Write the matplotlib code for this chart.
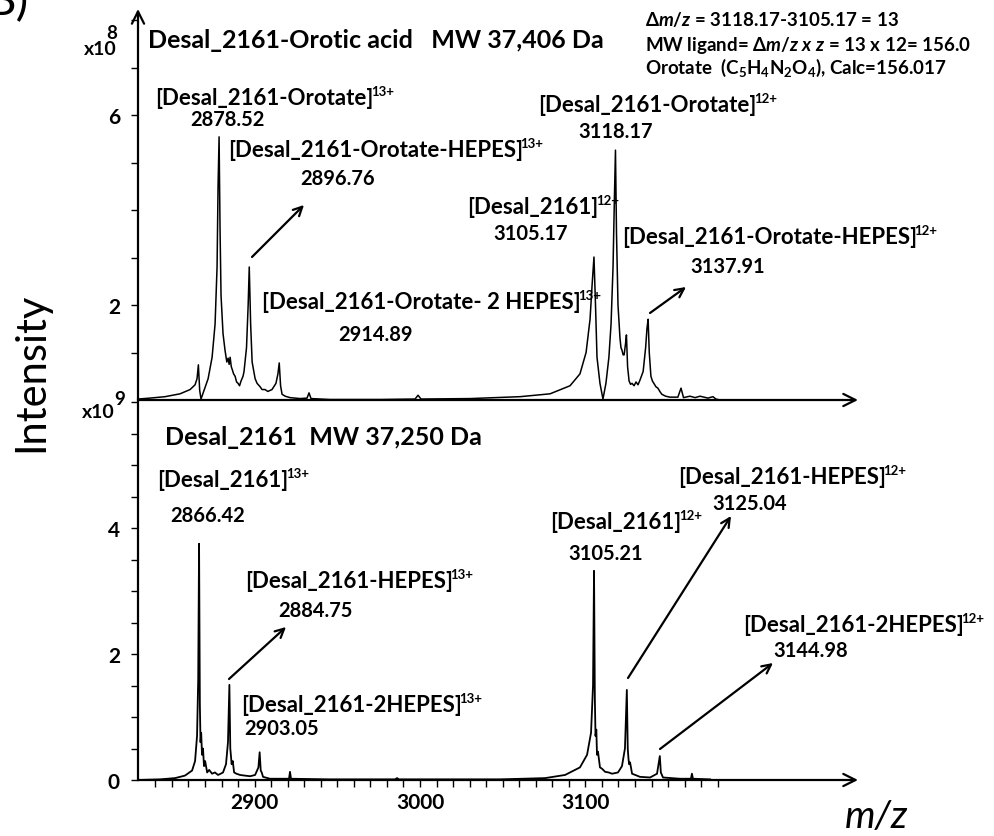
import matplotlib
matplotlib.use("Agg")
import matplotlib.pyplot as plt
from matplotlib import transforms
from matplotlib.patches import FancyArrowPatch
import numpy as np

plt.rcParams['font.family'] = ['Lato', 'DejaVu Sans']
plt.rcParams['mathtext.fontset'] = 'custom'
plt.rcParams['mathtext.rm'] = 'Lato:bold'
plt.rcParams['mathtext.bf'] = 'Lato:bold'
plt.rcParams['mathtext.it'] = 'Lato:italic:bold'

# ---------------- spectra ----------------
# Desal_2161 + orotic acid, intensity in units of 1e8
orot_mz = [2829.5, 2836.8, 2845.9, 2854.9, 2861.0, 2864.0, 2865.2, 2866.0, 2866.8, 2867.6,
           2869.4, 2871.9, 2874.3, 2876.1, 2877.3, 2877.9, 2878.52, 2879.1, 2879.7, 2880.9,
           2882.1, 2883.2, 2884.0, 2884.6, 2885.2, 2885.9, 2886.4, 2887.3, 2888.2, 2889.1,
           2890.0, 2890.9, 2891.8, 2893.0, 2893.6, 2895.1, 2896.1, 2896.76, 2897.6, 2898.5,
           2900.3, 2901.5, 2903.3, 2904.5, 2906.3, 2908.0, 2910.5, 2912.9, 2914.1, 2914.89,
           2915.7, 2916.6, 2918.5, 2921.4, 2927.5, 2931.7, 2932.9, 2934.1, 2945.6, 2975.9,
           2997.0, 2998.8, 3000.6, 3030.3, 3060.5, 3078.6, 3090.7, 3096.7, 3100.4, 3102.8,
           3104.0, 3105.17, 3106.1, 3107.0, 3108.8, 3110.6, 3112.4, 3114.2, 3115.5, 3116.7,
           3117.5, 3118.17, 3118.8, 3119.7, 3120.9, 3121.5, 3122.1, 3122.8, 3123.4, 3124.3,
           3124.8, 3125.5, 3126.4, 3127.3, 3128.2, 3129.4, 3130.6, 3131.8, 3133.0, 3134.9,
           3136.4, 3137.2, 3137.91, 3138.6, 3139.6, 3140.5, 3141.4, 3142.6, 3143.8, 3145.0,
           3146.2, 3148.5, 3151.1, 3155.9, 3157.8, 3159.3, 3163.2, 3166.3, 3169.3, 3174.1,
           3177.1, 3178.9, 3181.4]
orot_int = [0.02, 0.04, 0.07, 0.13, 0.22, 0.32, 0.45, 0.74, 0.20, 0.02,
            0.20, 0.45, 0.90, 1.60, 2.80, 4.50, 5.54, 3.60, 2.20, 1.40,
            1.05, 0.80, 0.88, 0.75, 0.90, 0.70, 0.65, 0.55, 0.50, 0.38,
            0.35, 0.30, 0.40, 0.50, 0.60, 1.10, 2.00, 2.80, 1.60, 0.80,
            0.45, 0.35, 0.28, 0.22, 0.22, 0.18, 0.22, 0.35, 0.55, 0.78,
            0.30, 0.12, 0.08, 0.05, 0.03, 0.04, 0.15, 0.03, 0.01, 0.01,
            0.02, 0.10, 0.02, 0.03, 0.07, 0.13, 0.30, 0.55, 1.00, 1.70,
            2.40, 3.01, 2.00, 0.90, 0.35, 0.02, 0.35, 0.90, 1.60, 2.80,
            4.20, 5.26, 3.50, 2.00, 1.30, 1.10, 1.05, 0.95, 0.95, 1.20,
            1.37, 0.70, 0.40, 0.33, 0.35, 0.30, 0.38, 0.32, 0.42, 0.60,
            1.10, 1.50, 1.70, 1.00, 0.50, 0.40, 0.35, 0.28, 0.25, 0.18,
            0.12, 0.08, 0.06, 0.06, 0.25, 0.05, 0.08, 0.05, 0.08, 0.04,
            0.07, 0.02, 0.00]

# Desal_2161 alone, intensity in units of 1e9
apo_mz = [2829.5, 2842.8, 2851.9, 2857.9, 2862.2, 2864.0, 2865.2, 2865.9, 2866.42, 2866.9,
          2867.3, 2867.7, 2868.2, 2868.8, 2869.4, 2870.1, 2871.3, 2872.5, 2874.3, 2876.0,
          2877.9, 2879.5, 2880.9, 2882.7, 2883.9, 2884.75, 2885.3, 2885.8, 2886.1, 2886.8,
          2887.6, 2889.0, 2891.2, 2894.0, 2897.3, 2900.3, 2902.3, 2903.05, 2903.7, 2904.3,
          2905.1, 2909.3, 2920.8, 2921.4, 2922.0, 2945.6, 2984.9, 2986.1, 2987.3, 3048.4,
          3075.6, 3087.7, 3096.7, 3101.0, 3103.4, 3104.6, 3105.21, 3105.7, 3106.1, 3106.6,
          3107.0, 3107.6, 3108.8, 3110.0, 3111.9, 3114.0, 3116.1, 3118.0, 3119.7, 3122.1,
          3123.9, 3125.04, 3125.6, 3126.0, 3126.4, 3127.0, 3128.2, 3133.0, 3139.1, 3143.3,
          3144.98, 3145.6, 3146.9, 3157.1, 3163.8, 3164.4, 3165.0, 3175.4]
apo_int = [0.00, 0.01, 0.03, 0.07, 0.15, 0.30, 0.70, 1.60, 3.75, 1.20,
           0.60, 0.75, 0.40, 0.50, 0.22, 0.30, 0.12, 0.16, 0.10, 0.12,
           0.08, 0.10, 0.12, 0.25, 0.60, 1.51, 0.50, 0.35, 0.25, 0.30,
           0.12, 0.10, 0.08, 0.07, 0.06, 0.08, 0.20, 0.44, 0.15, 0.12,
           0.05, 0.02, 0.02, 0.13, 0.02, 0.01, 0.01, 0.03, 0.01, 0.01,
           0.03, 0.08, 0.20, 0.40, 0.75, 1.50, 3.32, 1.30, 0.70, 0.80,
           0.40, 0.45, 0.20, 0.18, 0.13, 0.12, 0.10, 0.11, 0.12, 0.22,
           0.50, 1.43, 0.50, 0.35, 0.25, 0.28, 0.10, 0.05, 0.04, 0.10,
           0.38, 0.12, 0.04, 0.02, 0.02, 0.10, 0.02, 0.01]

# ---------------- peak annotations ----------------
orot_peak_mz = [2878.52, 2896.76, 2914.89, 3105.17, 3118.17, 3137.91]
orot_peak_names = ["[Desal_2161-Orotate]", "[Desal_2161-Orotate-HEPES]",
                   "[Desal_2161-Orotate- 2 HEPES]", "[Desal_2161]",
                   "[Desal_2161-Orotate]", "[Desal_2161-Orotate-HEPES]"]
orot_peak_charges = ["13+", "13+", "13+", "12+", "12+", "12+"]

apo_peak_mz = [2866.42, 2884.75, 2903.05, 3105.21, 3125.04, 3144.98]
apo_peak_names = ["[Desal_2161]", "[Desal_2161-HEPES]", "[Desal_2161-2HEPES]",
                  "[Desal_2161]", "[Desal_2161-HEPES]", "[Desal_2161-2HEPES]"]
apo_peak_charges = ["13+", "13+", "13+", "12+", "12+", "12+"]

x_major_ticks = [2900, 3000, 3100]
top_y_labelled = [2, 6]
bot_y_labelled = [0, 2, 4]

# ---------------- figure ----------------
W, H = 994, 837
fig = plt.figure(figsize=(W / 100, H / 100), dpi=100)
pix = transforms.Affine2D().scale(1, -1).translate(0, H)   # top-down pixel coords
renderer = fig.canvas.get_renderer()


def rect(x0, y0, x1, y1):
    return [x0 / W, 1 - y1 / H, (x1 - x0) / W, (y1 - y0) / H]


ax_top = fig.add_axes(rect(138, 10, 858, 401))
ax_bot = fig.add_axes(rect(138, 401, 858, 781))
for ax in (ax_top, ax_bot):
    ax.set_xlim(2829.5, 3264.8)
    ax.patch.set_visible(False)
    for s in ('top', 'right', 'bottom'):
        ax.spines[s].set_visible(False)
    ax.spines['left'].set_linewidth(1.6)
ax_top.spines['left'].set_visible(False)
ax_top.set_ylim(0, 391 / 47.5)
ax_bot.set_ylim(0, 380 / 63)

ax_top.plot(orot_mz, orot_int, color='black', lw=1.1)
ax_bot.plot(apo_mz, apo_int, color='black', lw=1.3)

tick_font = dict(fontsize=15, fontweight='bold')

# axes with arrow heads
arrow_kw = dict(arrowstyle='->', lw=1.6, color='black', mutation_scale=22,
                shrinkA=0, shrinkB=0)
ax_top.annotate('', xy=(0, 1), xytext=(0, 0), xycoords='axes fraction',
                arrowprops=arrow_kw)
for ax in (ax_top, ax_bot):
    ax.annotate('', xy=(1, 0), xytext=(0, 0), xycoords='axes fraction',
                arrowprops=arrow_kw)

# upper panel ticks
ax_top.set_xticks([])
ax_top.set_yticks(top_y_labelled)
ax_top.set_yticklabels([str(v) for v in top_y_labelled], **tick_font)
ax_top.set_yticks(np.arange(1, 9), minor=True)
ax_top.tick_params(axis='y', which='both', direction='out', length=5, width=1.0, pad=8)

# lower panel ticks
ax_bot.set_xticks(x_major_ticks)
ax_bot.set_xticklabels([str(v) for v in x_major_ticks], **tick_font)
ax_bot.set_xticks(np.arange(2840, 3181, 10), minor=True)
ax_bot.tick_params(axis='x', which='both', direction='out', length=5, width=1.0, pad=4)
ax_bot.set_yticks(bot_y_labelled)
ax_bot.set_yticklabels([str(v) for v in bot_y_labelled], **tick_font)
ax_bot.set_yticks(np.arange(0, 6.01, 0.5), minor=True)
ax_bot.tick_params(axis='y', which='both', direction='out', length=5, width=1.0, pad=8)


def ptext(x, y, s, **kw):
    kw.setdefault('fontweight', 'bold')
    kw.setdefault('va', 'baseline')
    kw.setdefault('ha', 'left')
    return fig.text(x, y, s, transform=pix, **kw)


def charged(x, y, name, charge, size=16, sup_size=9.5):
    """Species name followed by a raised charge state."""
    t = ptext(x, y, name, fontsize=size)
    w = t.get_window_extent(renderer).width
    ptext(x + w - 2.5, y - 0.40 * size * 100 / 72, charge, fontsize=sup_size)


def parrow(tail, head):
    fig.add_artist(FancyArrowPatch(tail, head, transform=pix, arrowstyle='->',
                                   lw=1.6, color='black', mutation_scale=16,
                                   shrinkA=0, shrinkB=0))


# scale factors
ptext(117, 55, "x10", fontsize=14, ha='right')
ptext(117, 39, "8", fontsize=13.5, ha='right')
ptext(115, 418, "x10", fontsize=14, ha='right')
ptext(114, 405, "9", fontsize=13.5)

# panel label (runs off the top edge)
ptext(-14, 15, "B)", fontsize=34, fontweight='normal')

# axis titles
ptext(31, 372, "Intensity", fontsize=30, fontweight='normal', rotation=90,
      ha='center', va='center')
ptext(845, 828, "m/z", fontsize=28, fontweight='normal', fontstyle='italic')

# panel titles
ptext(148, 48, "Desal_2161-Orotic acid   MW 37,406 Da", fontsize=18)
ptext(165, 445, "Desal_2161  MW 37,250 Da", fontsize=18)

# ligand mass calculation
ptext(645, 26, r"Δ$m/z$ = 3118.17-3105.17 = 13", fontsize=13.5)
ptext(645, 51, r"MW ligand= Δ$m/z$ $x$ $z$ = 13 x 12= 156.0", fontsize=13.5)
ptext(645, 74, r"Orotate  (C$_5$H$_4$N$_2$O$_4$), Calc=156.017", fontsize=13.5)

# peak labels: (name position, value position) in pixels
orot_label_pos = [((155, 105), (190, 126)), ((228, 157), (300, 185)),
                  ((262, 309), (338, 341)), ((467, 214), (493, 240)),
                  ((538, 112), (578, 138)), ((622, 244), (690, 273))]
apo_label_pos = [((157, 487), (170, 522)), ((245, 588), (278, 617)),
                 ((241, 712), (244, 735)), ((550, 529), (568, 560)),
                 ((678, 484), (712, 510)), ((743, 632), (773, 657))]

for names, charges, mzs, pos in ((orot_peak_names, orot_peak_charges, orot_peak_mz, orot_label_pos),
                                 (apo_peak_names, apo_peak_charges, apo_peak_mz, apo_label_pos)):
    for name, ch, mz, (p_name, p_val) in zip(names, charges, mzs, pos):
        charged(p_name[0], p_name[1], name, ch)
        ptext(p_val[0], p_val[1], f"{mz:.2f}", fontsize=14.5)

# pointer arrows
parrow((252, 258), (304, 206))
parrow((650, 314), (686, 288))
parrow((229, 680), (286, 628))
parrow((628, 679), (731, 517))
parrow((660, 750), (773, 664))

fig.savefig("out.png", dpi=100)
